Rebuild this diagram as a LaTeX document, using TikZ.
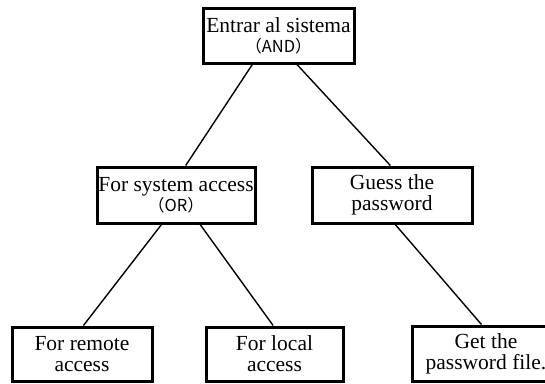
\documentclass[tikz,border=0pt]{standalone}
\usepackage{fontspec}
\setmainfont{Liberation Serif}
\newfontfamily\cjk{Noto Sans CJK SC}
\usetikzlibrary{calc}
\begin{document}
\begin{tikzpicture}[x=1pt,y=-1pt,
  box/.style={draw,line width=3pt,rectangle,inner sep=0pt,align=center,
    font=\fontsize{21.5}{21}\selectfont},
  link/.style={line width=1.4pt}]
\useasboundingbox (0,0) rectangle (545,383);
\clip (0,0) rectangle (545,383);
\fill[white] (0,0) rectangle (545,383);
\node[box,minimum width=151pt,minimum height=55pt] (top) at (278.5,35.5)
  {Entrar al sistema\\[-1pt]{\cjk\fontsize{16.5}{16}\selectfont （AND）}};
\node[box,minimum width=158pt,minimum height=56pt] (midl) at (176,195)
  {For system access\\[-1pt]{\cjk\fontsize{16.5}{16}\selectfont （OR）}};
\node[box,minimum width=160pt,minimum height=56pt] (midr) at (392,195)
  {Guess the\\password};
\node[box,minimum width=140pt,minimum height=54pt] (botl) at (82,354)
  {For remote\\access};
\node[box,minimum width=137pt,minimum height=54pt] (botm) at (274.5,354)
  {For local\\access};
\node[box,minimum width=148pt,minimum height=55pt] (botr) at (486,353.5)
  {Get the\\password file.};
\draw[link] ($(top.south west)!0.33!(top.south east)$) -- ($(midl.north west)!0.56!(midl.north east)$);
\draw[link] ($(top.south west)!0.62!(top.south east)$) -- ($(midr.north west)!0.49!(midr.north east)$);
\draw[link] ($(midl.south west)!0.41!(midl.south east)$) -- ($(botl.north west)!0.51!(botl.north east)$);
\draw[link] ($(midl.south west)!0.65!(midl.south east)$) -- ($(botm.north west)!0.49!(botm.north east)$);
\draw[link] ($(midr.south west)!0.52!(midr.south east)$) -- ($(botr.north west)!0.47!(botr.north east)$);
\end{tikzpicture}
\end{document}
